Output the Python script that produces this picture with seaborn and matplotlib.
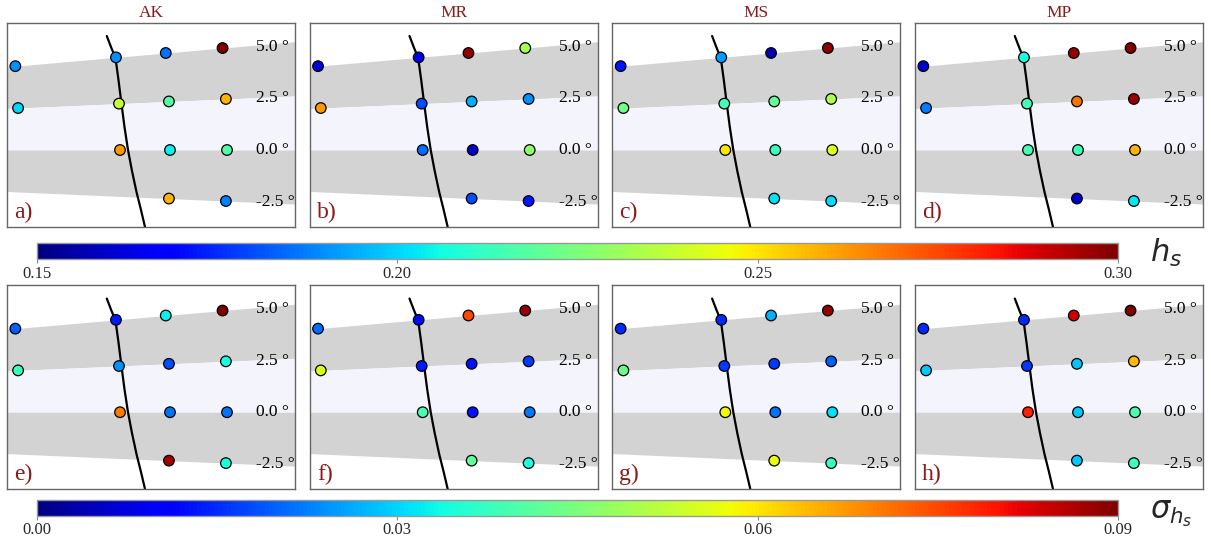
import numpy as np
import pandas as pd
import matplotlib
matplotlib.use("Agg")
import matplotlib.pyplot as plt
import seaborn as sns

# ---------------- data ----------------
models = ["AK", "MR", "MS", "MP"]
top_letters = ["a)", "b)", "c)", "d)"]
bottom_letters = ["e)", "f)", "g)", "h)"]
elevations = [5.0, 2.5, 0.0, -2.5]          # degrees (rows)
slant_ranges = [96.2, 106.3, 111.3, 117.0]  # columns
elev_labels = ["5.0 °", "2.5 °", "0.0 °", "-2.5 °"]
nan = np.nan

hs_AK = [[0.190, 0.190, 0.186, 0.300],
         [0.200, 0.238, 0.2175, 0.258],
         [nan, 0.262, 0.204, 0.2175],
         [nan, nan, 0.258, 0.188]]
hs_MR = [[0.162, 0.163, 0.297, 0.233],
         [0.262, 0.180, 0.195, 0.190],
         [nan, 0.185, 0.160, 0.228],
         [nan, nan, 0.180, 0.172]]
hs_MS = [[0.172, 0.192, 0.157, 0.298],
         [0.223, 0.215, 0.220, 0.234],
         [nan, 0.250, 0.213, 0.243],
         [nan, nan, 0.202, 0.201]]
hs_MP = [[0.161, 0.207, 0.297, 0.300],
         [0.187, 0.215, 0.268, 0.296],
         [nan, 0.215, 0.214, 0.258],
         [nan, nan, 0.160, 0.203]]

sd_AK = [[0.020, 0.0135, 0.0325, 0.090],
         [0.038, 0.024, 0.018, 0.034],
         [nan, 0.070, 0.0215, 0.0215],
         [nan, nan, 0.087, 0.034]]
sd_MR = [[0.021, 0.012, 0.075, 0.088],
         [0.0555, 0.0135, 0.013, 0.0165],
         [nan, 0.0395, 0.013, 0.022],
         [nan, nan, 0.042, 0.034]]
sd_MS = [[0.015, 0.015, 0.027, 0.088],
         [0.043, 0.0165, 0.0165, 0.020],
         [nan, 0.058, 0.0215, 0.031],
         [nan, nan, 0.057, 0.037]]
sd_MP = [[0.015, 0.015, 0.084, 0.090],
         [0.029, 0.0165, 0.029, 0.064],
         [nan, 0.079, 0.029, 0.0395],
         [nan, nan, 0.029, 0.038]]

hs_sets = [hs_AK, hs_MR, hs_MS, hs_MP]
sd_sets = [sd_AK, sd_MR, sd_MS, sd_MP]

hs_ticks = [0.15, 0.20, 0.25, 0.30]
sd_ticks = [0.00, 0.03, 0.06, 0.09]

# black boundary curve (range, height)
curve_x = [104.98, 105.40, 105.85, 106.15, 106.45, 106.75, 107.10, 107.50, 107.95, 108.40, 108.80]
curve_y = [11.40, 10.30, 9.20, 7.00, 4.60, 2.30, 0.00, -2.10, -4.20, -6.00, -7.70]

x_limits = (95.0, 123.8)
y_limits = (-7.7, 12.73)

# ---------------- style ----------------
sns.set_style("white")
plt.rcParams["font.family"] = ["Liberation Serif", "DejaVu Sans"]
plt.rcParams["mathtext.fontset"] = "dejavusans"

JET = matplotlib.colormaps["jet"]

W, H = 1211, 543
fig = plt.figure(figsize=(W / 100, H / 100), dpi=100)

dark_red = "#8b1a1a"
gray_band = "#d3d3d3"
lav_band = "#f4f4fc"

panel_lefts = [7, 309.7, 612.3, 915]
panel_w = 288
rows_px = [(22.7, 227.0), (285.3, 489.0)]


def make_df(vals):
    recs = []
    for i, el in enumerate(elevations):
        for j, R in enumerate(slant_ranges):
            v = vals[i][j]
            if np.isnan(v):
                continue
            recs.append({"x": R * np.cos(np.radians(el)),
                         "y": R * np.sin(np.radians(el)),
                         "val": v})
    return pd.DataFrame(recs)


def draw_panel(ax, vals, norm_range, letter, title=None):
    xe = np.array(x_limits)
    t25 = np.tan(np.radians(2.5))
    t50 = np.tan(np.radians(5.0))
    ax.fill_between(xe, xe * t25, xe * t50, color=gray_band, lw=0, zorder=0)
    ax.fill_between(xe, 0 * xe, xe * t25, color=lav_band, lw=0, zorder=0)
    ax.fill_between(xe, -xe * t25, 0 * xe, color=gray_band, lw=0, zorder=0)
    sns.lineplot(x=curve_x, y=curve_y, sort=False, estimator=None,
                 color="black", lw=1.6, ax=ax, zorder=2)
    df = make_df(vals)
    sns.scatterplot(data=df, x="x", y="y", hue="val", palette=JET,
                    hue_norm=norm_range, legend=False, s=58,
                    edgecolor="black", linewidth=0.9, ax=ax, zorder=3)
    ax.set_xlim(*x_limits)
    ax.set_ylim(*y_limits)
    ax.set_xticks([])
    ax.set_yticks([])
    ax.set_xlabel("")
    ax.set_ylabel("")
    for sp in ax.spines.values():
        sp.set_color("#666666")
        sp.set_linewidth(1.0)
        sp.set_visible(True)
    for el, lab in zip(elevations, elev_labels):
        ax.text(119.9, 118.0 * np.tan(np.radians(el)), lab, fontsize=12.5,
                ha="left", va="center", color="black", clip_on=False, zorder=4)
    ax.text(0.025, 0.07, letter, transform=ax.transAxes, fontsize=17,
            color=dark_red, ha="left", va="center")
    if title:
        ax.set_title(title, fontsize=12.5, color=dark_red, pad=4)


for r, (sets, letters, nr) in enumerate([(hs_sets, top_letters, (0.15, 0.30)),
                                          (sd_sets, bottom_letters, (0.0, 0.09))]):
    y0, y1 = rows_px[r]
    for k in range(4):
        ax = fig.add_axes([panel_lefts[k] / W, (H - y1) / H,
                           panel_w / W, (y1 - y0) / H])
        draw_panel(ax, sets[k], nr, letters[k], models[k] if r == 0 else None)


def add_cbar(ypx_top, ypx_bot, vmin, vmax, ticks, label, label_y):
    cax = fig.add_axes([36.7 / W, (H - ypx_bot) / H,
                        (1118 - 36.7) / W, (ypx_bot - ypx_top) / H])
    sm = matplotlib.cm.ScalarMappable(norm=matplotlib.colors.Normalize(vmin, vmax),
                                      cmap=JET)
    cb = fig.colorbar(sm, cax=cax, orientation="horizontal")
    cb.set_ticks(ticks)
    cb.set_ticklabels([f"{t:.2f}" for t in ticks])
    cb.outline.set_edgecolor("#999999")
    cb.outline.set_linewidth(1.0)
    cax.tick_params(labelsize=12, length=3, width=0.8, color="#888888", pad=2)
    fig.text(1150 / W, 1 - label_y / H, label, fontsize=22,
             ha="left", va="center")


add_cbar(243.0, 258.7, 0.15, 0.30, hs_ticks, r"$h_s$", 253)
add_cbar(500.0, 515.5, 0.0, 0.09, sd_ticks, r"$\sigma_{h_s}$", 514)

fig.savefig("out.png", dpi=100)
